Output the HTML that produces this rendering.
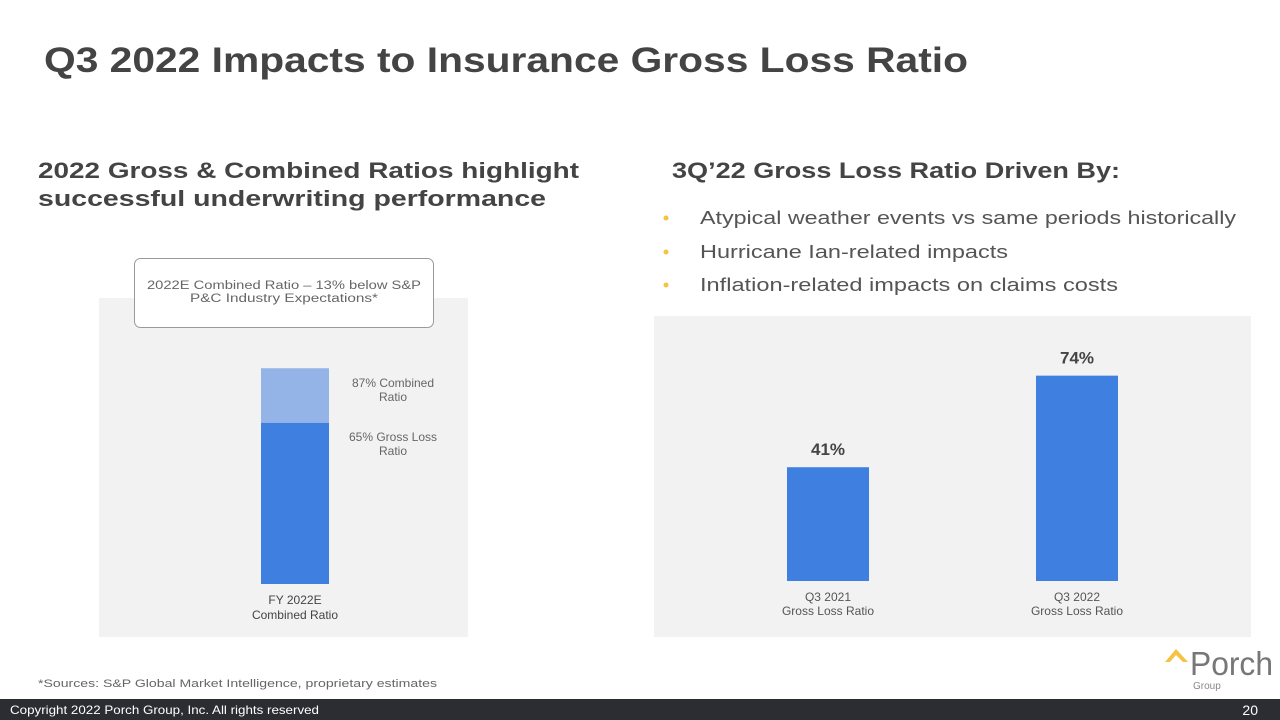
<!DOCTYPE html>
<html><head><meta charset="utf-8"><style>
html,body{margin:0;padding:0;background:#fff;}
svg{display:block;font-family:"Liberation Sans",sans-serif;}
</style></head><body>
<svg id="s" width="1280" height="720" viewBox="0 0 1280 720">
<text x="44" y="72" font-size="35" font-weight="bold" fill="#444" textLength="924" lengthAdjust="spacingAndGlyphs">Q3 2022 Impacts to Insurance Gross Loss Ratio</text>
<text x="38" y="178" font-size="22" font-weight="bold" fill="#444" textLength="541" lengthAdjust="spacingAndGlyphs">2022 Gross &amp; Combined Ratios highlight</text>
<text x="38" y="206" font-size="22" font-weight="bold" fill="#444" textLength="508" lengthAdjust="spacingAndGlyphs">successful underwriting performance</text>
<text x="672" y="178" font-size="22" font-weight="bold" fill="#444" textLength="448" lengthAdjust="spacingAndGlyphs">3Q’22 Gross Loss Ratio Driven By:</text>
<g fill="#555" font-size="18">
<circle cx="666" cy="218" r="2.5" fill="#f5c242"/><text x="700" y="224" textLength="536" lengthAdjust="spacingAndGlyphs">Atypical weather events vs same periods historically</text>
<circle cx="666" cy="252" r="2.5" fill="#f5c242"/><text x="700" y="258" textLength="308" lengthAdjust="spacingAndGlyphs">Hurricane Ian-related impacts</text>
<circle cx="666" cy="285" r="2.5" fill="#f5c242"/><text x="700" y="291" textLength="418" lengthAdjust="spacingAndGlyphs">Inflation-related impacts on claims costs</text>
</g>
<rect x="99" y="298" width="369" height="339" fill="#f2f2f2"/>
<rect x="654" y="316" width="597" height="321" fill="#f2f2f2"/>
<rect x="134.5" y="258.5" width="299" height="69" rx="6" fill="#fff" stroke="#9a9a9a"/>
<text x="284" y="289" font-size="11.5" fill="#666" text-anchor="middle" textLength="274" lengthAdjust="spacingAndGlyphs">2022E Combined Ratio – 13% below S&amp;P</text>
<text x="284" y="302" font-size="11.5" fill="#666" text-anchor="middle" textLength="188" lengthAdjust="spacingAndGlyphs">P&amp;C Industry Expectations*</text>
<g id="left"></g>
<g id="right"></g>
<text x="38" y="687" font-size="11" fill="#666" textLength="399" lengthAdjust="spacingAndGlyphs">*Sources: S&amp;P Global Market Intelligence, proprietary estimates</text>
<path d="M1165 662 L1176 649 L1188 662 L1183 662 L1176 655 L1170 662 Z" fill="#f5c242"/>
<text x="1190" y="675" font-size="33" fill="#777" textLength="83" lengthAdjust="spacingAndGlyphs">Porch</text>
<text x="1193" y="689" font-size="10" fill="#888">Group</text>
<rect x="0" y="699" width="1280" height="21" fill="#2b2d33"/>
<text x="10" y="714" font-size="12" fill="#fff" textLength="309" lengthAdjust="spacingAndGlyphs">Copyright 2022 Porch Group, Inc. All rights reserved</text>
<text x="1258" y="715" font-size="14" fill="#fff" text-anchor="end">20</text>
</svg>
<script>
const leftGross = 65;
const leftCombined = 87;
const rightCategories = ["Q3 2021", "Q3 2022"];
const rightValues = [41, 74];
const NS = "http://www.w3.org/2000/svg";
function mk(tag, attrs, parent, txt){const e=document.createElementNS(NS,tag);for(const k in attrs)e.setAttribute(k,attrs[k]);if(txt!==undefined)e.textContent=txt;parent.appendChild(e);return e;}
// left chart
const lBase=584, lScale=2.48;
function ly(v){return lBase - v*lScale;}
const L=document.getElementById('left');
let r=mk('rect',{x:261,y:ly(leftCombined),width:68,height:ly(leftGross)-ly(leftCombined),fill:'#94b3e6'},L);


r=mk('rect',{x:261,y:ly(leftGross),width:68,height:lBase-ly(leftGross),fill:'#3f7fe0'},L);


let t=mk('text',{x:393,y:ly(leftCombined)+19,'font-size':12,fill:'#666','text-anchor':'middle'},L,leftCombined+'% Combined');


mk('text',{x:393,y:ly(leftCombined)+33,'font-size':12,fill:'#666','text-anchor':'middle'},L,'Ratio');
t=mk('text',{x:393,y:ly(leftGross)+18,'font-size':12,fill:'#666','text-anchor':'middle'},L,leftGross+'% Gross Loss');


mk('text',{x:393,y:ly(leftGross)+32,'font-size':12,fill:'#666','text-anchor':'middle'},L,'Ratio');
t=mk('text',{x:295,y:604,'font-size':12,fill:'#444','text-anchor':'middle'},L,'FY 2022E');


mk('text',{x:295,y:619,'font-size':12,fill:'#444','text-anchor':'middle'},L,'Combined Ratio');
// right chart
const rBase=581, rScale=2.775;
function ry(v){return rBase - v*rScale;}
const centers=[828,1077];
const R=document.getElementById('right');
rightValues.forEach((v,i)=>{
  const b=mk('rect',{x:centers[i]-41,y:ry(v),width:82,height:rBase-ry(v),fill:'#3f7fe0'},R);
  
  
  const vl=mk('text',{x:centers[i],y:ry(v)-12,'font-size':17,'font-weight':'bold',fill:'#444','text-anchor':'middle'},R,v+'%');
  
  
  const xl=mk('text',{x:centers[i],y:601,'font-size':12,fill:'#555','text-anchor':'middle'},R,rightCategories[i]);
  
  
  mk('text',{x:centers[i],y:615,'font-size':12,fill:'#555','text-anchor':'middle'},R,'Gross Loss Ratio');
});
</script>
</body></html>
